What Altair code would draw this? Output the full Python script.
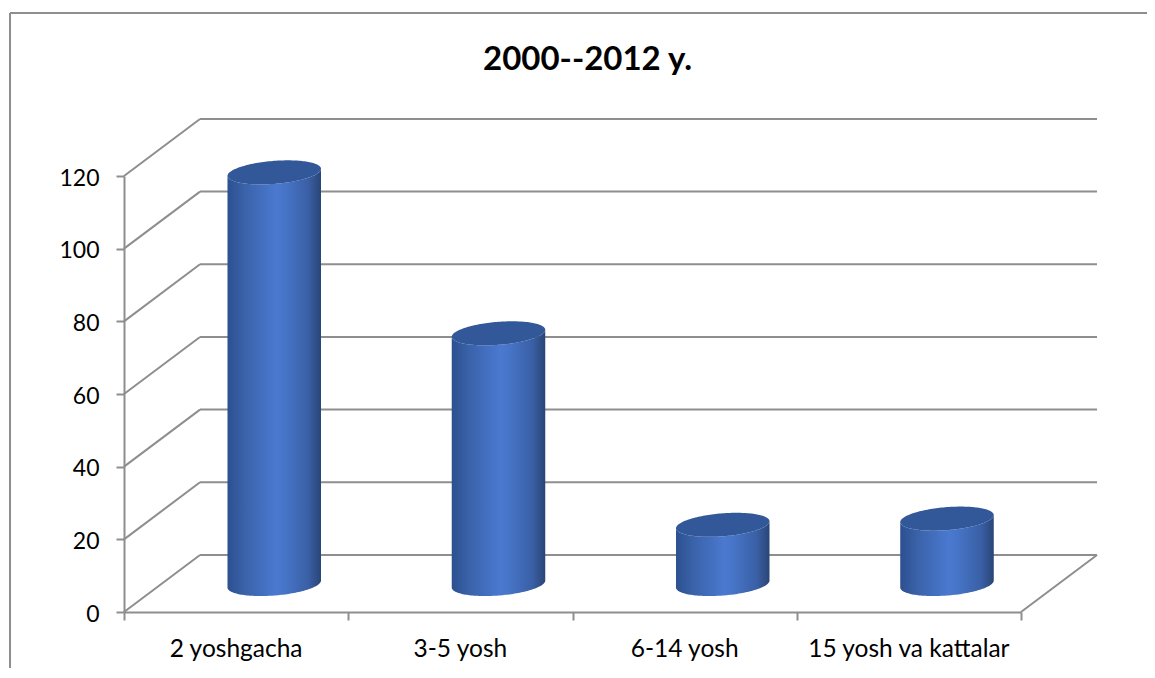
import altair as alt
import numpy as np
import pandas as pd

categories = ["2 yoshgacha", "3-5 yosh", "6-14 yosh", "15 yosh va kattalar"]
values = [113.3, 69, 16.3, 18]
y_ticks = [0, 20, 40, 60, 80, 100, 120]
x_ticks = [0, 1, 2, 3, 4]
title_text = "2000--2012 y."

# chart geometry in axis units (3-D depth of the floor, cylinder shape)
DEPTH_X, DEPTH_Y = 0.339, 15.7
BAR_CENTER, BAR_A, BAR_B, BAR_SHEAR, BAR_BASE = 0.67, 0.2085, 3.17, 0.963, 7.7

LINE = "#8e8e8e"
LW = 2
FONT = "Lato"

xs = alt.Scale(domain=[0, 4], nice=False, zero=False)
ys = alt.Scale(domain=[0, 120], nice=False)

wall = pd.DataFrame({
    "x": [DEPTH_X] * len(y_ticks),
    "x2": [4 + DEPTH_X] * len(y_ticks),
    "y": [v + DEPTH_Y for v in y_ticks],
})
diag = pd.DataFrame(
    [{"x": 0, "x2": DEPTH_X, "y": v, "y2": v + DEPTH_Y} for v in y_ticks]
    + [{"x": 4, "x2": 4 + DEPTH_X, "y": 0, "y2": DEPTH_Y}]
)

rows, tops = [], []
t = np.linspace(0, np.pi, 81)
for i, (c, v) in enumerate(zip(categories, values)):
    for ti in t:
        u = np.cos(ti)
        h = BAR_B * np.sin(ti)
        x = i + BAR_CENTER + BAR_A * u
        s = BAR_SHEAR * u
        rows.append({"cat": c, "x": x, "y": BAR_BASE + v + s - h, "y2": BAR_BASE + s - h})
        tops.append({"cat": c, "x": x, "y": BAR_BASE + v + s + h, "y2": BAR_BASE + v + s - h})
body = pd.DataFrame(rows)
top = pd.DataFrame(tops)

labels = pd.DataFrame({"x": [i + 0.5 for i in range(len(categories))], "label": categories})

grad = alt.Gradient(
    gradient="linear", x1=0, x2=1, y1=0, y2=0,
    stops=[
        alt.GradientStop(offset=0, color="#2c5090"),
        alt.GradientStop(offset=0.18, color="#3a62a9"),
        alt.GradientStop(offset=0.52, color="#4a79d0"),
        alt.GradientStop(offset=0.62, color="#4674c6"),
        alt.GradientStop(offset=0.86, color="#3a60a6"),
        alt.GradientStop(offset=1, color="#2a4576"),
    ],
)

axis_style = dict(
    title=None, grid=False, domainColor=LINE, domainWidth=LW, tickColor=LINE,
    tickWidth=LW, tickSize=8, labelFont=FONT, labelColor="#000000",
)
x_axis = alt.Axis(values=x_ticks, labels=False, **axis_style)
y_axis = alt.Axis(values=y_ticks, labelFontSize=23, labelPadding=17, labelOffset=2, **axis_style)

X = lambda f="x": alt.X(f"{f}:Q", scale=xs, axis=x_axis)
Y = lambda f="y": alt.Y(f"{f}:Q", scale=ys, axis=y_axis)

wall_l = alt.Chart(wall).mark_rule(color=LINE, strokeWidth=LW).encode(x=X(), x2="x2:Q", y=Y())
diag_l = alt.Chart(diag).mark_rule(color=LINE, strokeWidth=LW).encode(x=X(), x2="x2:Q", y=Y(), y2="y2:Q")

body_l = alt.Chart(body).mark_area(color=grad).encode(x=X(), y=Y(), y2="y2:Q", detail="cat:N")
top_l = alt.Chart(top).mark_area(color="#33589a").encode(x=X(), y=Y(), y2="y2:Q", detail="cat:N")

cat_l = alt.Chart(labels).mark_text(font=FONT, fontSize=24.5, color="#000000", baseline="middle").encode(
    x=X(), y=alt.value(474), text="label:N"
)

one = pd.DataFrame({"k": [0]})
frame_top = alt.Chart(one).mark_rule(color=LINE, strokeWidth=LW).encode(
    x=alt.value(-114), x2=alt.value(1023), y=alt.value(-163)
)
frame_left = alt.Chart(one).mark_rule(color=LINE, strokeWidth=LW).encode(
    x=alt.value(-114), y=alt.value(-163), y2=alt.value(492)
)
title_l = alt.Chart(pd.DataFrame({"t": [title_text]})).mark_text(
    font=FONT, fontSize=33, fontWeight="bold", color="#000000", baseline="alphabetic"
).encode(x=alt.value(463.5), y=alt.value(-106), text="t:N")

chart = alt.layer(frame_top, frame_left, wall_l, diag_l, body_l, top_l, cat_l, title_l).properties(
    width=897,
    height=436,
    padding={"left": 116, "top": 168, "right": 126, "bottom": 56},
    autosize=alt.AutoSizeParams(type="none"),
    background="#ffffff",
).configure_view(stroke=None)

chart.save("out.html", embed_options={"renderer": "svg", "actions": False})
